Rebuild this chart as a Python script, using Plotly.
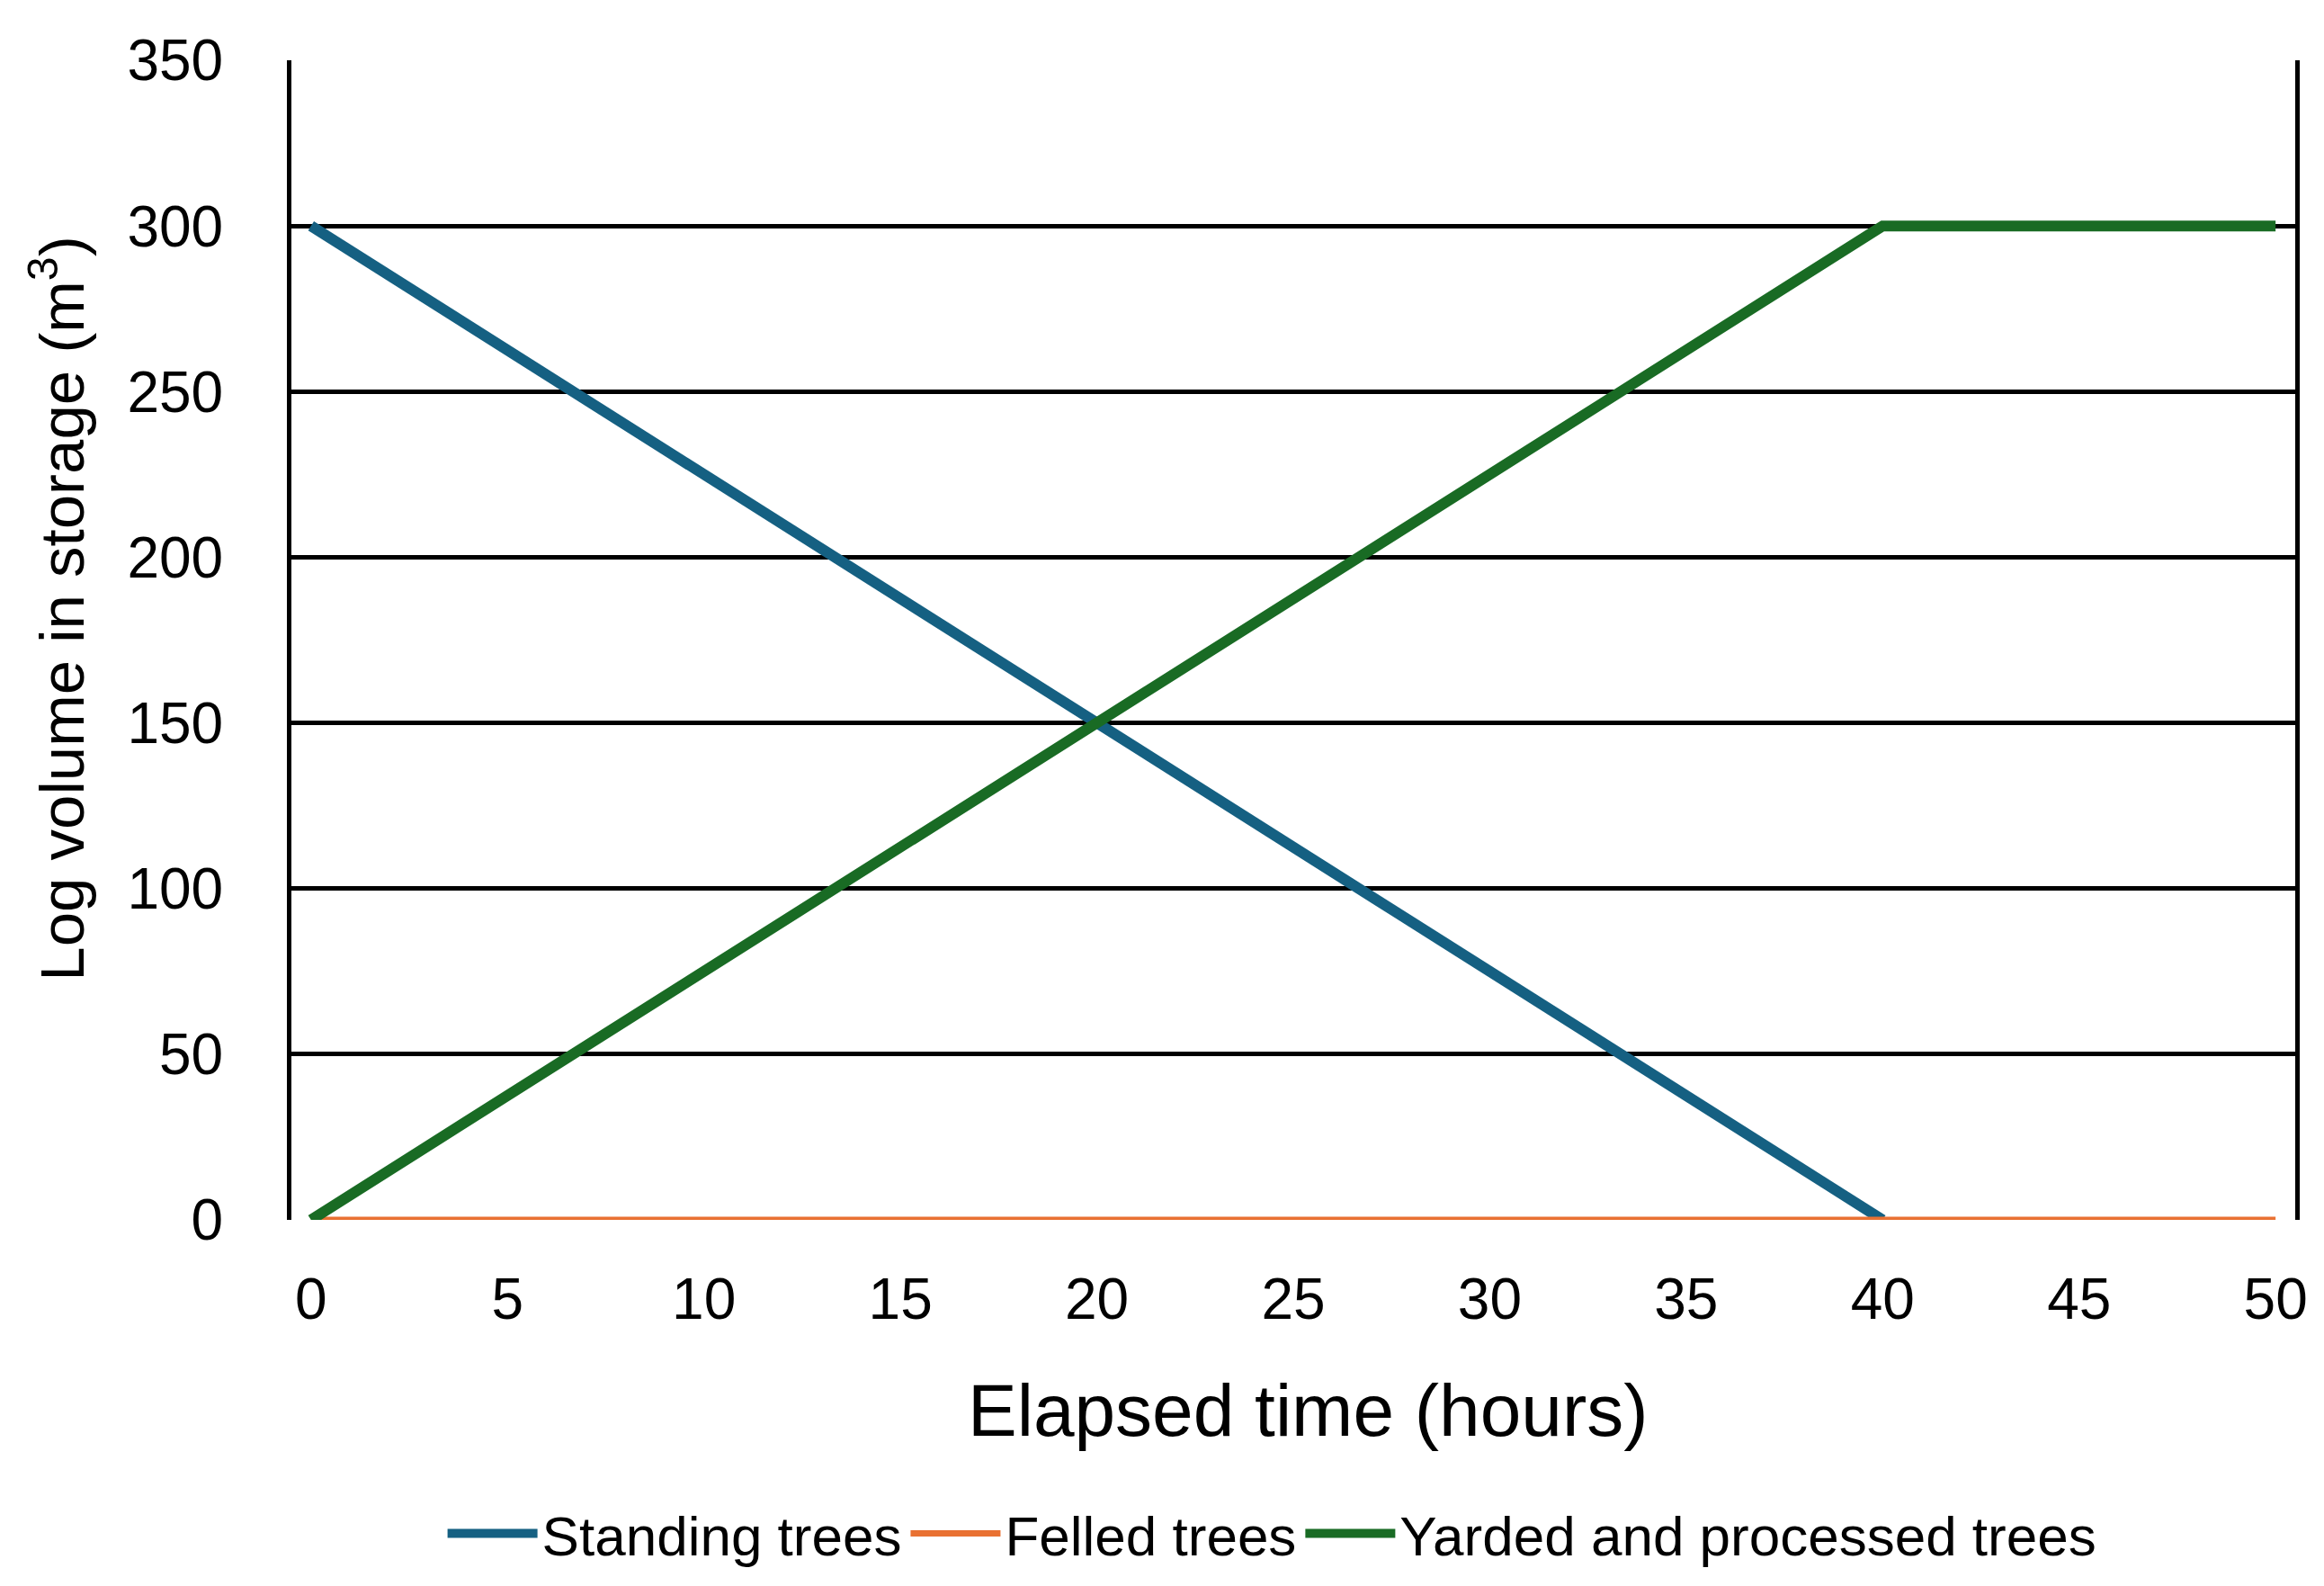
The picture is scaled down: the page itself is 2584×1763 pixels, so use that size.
import plotly.graph_objects as go

# Data
hours_standing = [0, 5, 10, 15, 20, 25, 30, 35, 40]
standing = [300, 262.5, 225, 187.5, 150, 112.5, 75, 37.5, 0]

hours_all = [0, 5, 10, 15, 20, 25, 30, 35, 40, 45, 50]
felled = [0, 0, 0, 0, 0, 0, 0, 0, 0, 0, 0]
yarded = [0, 37.5, 75, 112.5, 150, 187.5, 225, 262.5, 300, 300, 300]

series_names = ["Standing trees", "Felled trees", "Yarded and processed trees"]
series_colors = ["#156082", "#E97132", "#196B24"]

x_ticks = [0, 5, 10, 15, 20, 25, 30, 35, 40, 45, 50]
y_ticks = [0, 50, 100, 150, 200, 250, 300, 350]

FONT = "Liberation Sans, Arial, sans-serif"

fig = go.Figure()
fig.add_trace(go.Scatter(x=hours_standing, y=standing, mode="lines", name=series_names[0],
                         line=dict(color=series_colors[0], width=12)))
fig.add_trace(go.Scatter(x=hours_all, y=felled, mode="lines", name=series_names[1],
                         line=dict(color=series_colors[1], width=7)))
fig.add_trace(go.Scatter(x=hours_all, y=yarded, mode="lines", name=series_names[2],
                         line=dict(color=series_colors[2], width=12)))

fig.update_layout(
    width=2584, height=1763,
    margin=dict(l=316, r=40, t=59, b=415),
    paper_bgcolor="white", plot_bgcolor="white",
    showlegend=True,
    legend=dict(orientation="h", x=0.4895, xanchor="center", y=-0.2705, yanchor="middle",
                font=dict(family=FONT, size=62, color="black"), itemwidth=100,
                tracegroupgap=0, bgcolor="rgba(0,0,0,0)"),
    xaxis=dict(range=[-0.5, 50.5], tickmode="array", tickvals=x_ticks,
               ticktext=[str(v) for v in x_ticks], showgrid=False, zeroline=False,
               showline=False, ticks="outside", ticklen=0, ticklabelstandoff=32,
               tickfont=dict(family=FONT, size=64, color="black")),
    yaxis=dict(range=[0, 350], tickmode="array", tickvals=y_ticks,
               ticktext=[str(v) for v in y_ticks], showgrid=True, gridcolor="black",
               gridwidth=5, zeroline=False, showline=True, linecolor="black", linewidth=5,
               mirror=True, ticks="outside", ticklen=0, ticklabelstandoff=58,
               tickfont=dict(family=FONT, size=64, color="black")),
    annotations=[
        dict(text="Elapsed time (hours)", xref="paper", yref="paper", x=0.5076, y=-0.1637,
             xanchor="center", yanchor="middle", showarrow=False,
             font=dict(family=FONT, size=82, color="black")),
        dict(text="Log volume in storage (m<sup>3</sup>)", xref="paper", yref="paper",
             x=-0.1167, y=0.527, xanchor="center", yanchor="middle", textangle=-90,
             showarrow=False, font=dict(family=FONT, size=69, color="black")),
    ],
)

fig.write_html("out.html")
